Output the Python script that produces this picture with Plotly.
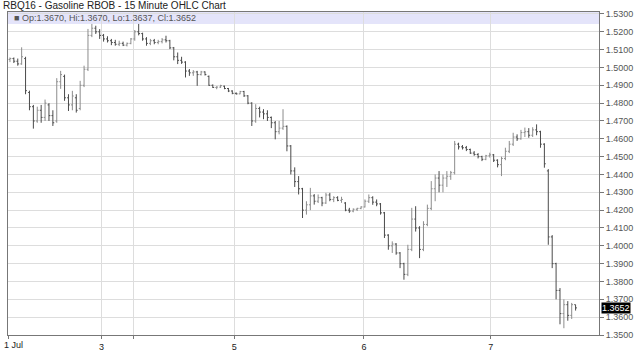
import plotly.graph_objects as go

# 15-minute bars (one bar every ~4 px of the original)
opens = [1.5045,1.5050,1.5035,1.5020,1.5050,1.4860,1.4780,1.4700,1.4760,1.4720,
         1.4790,1.4730,1.4700,1.4920,1.4950,1.4830,1.4790,1.4830,1.4770,1.4900,
         1.4990,1.5180,1.5220,1.5200,1.5180,1.5160,1.5150,1.5140,1.5130,1.5135,
         1.5125,1.5135,1.5160,1.5200,1.5190,1.5160,1.5135,1.5150,1.5140,1.5145,
         1.5155,1.5150,1.5110,1.5060,1.5040,1.5030,1.4980,1.4970,1.4975,1.4960,
         1.4975,1.4950,1.4900,1.4888,1.4890,1.4895,1.4882,1.4868,1.4855,1.4852,
         1.4865,1.4841,1.4800,1.4700,1.4770,1.4750,1.4740,1.4720,1.4690,1.4640,
         1.4660,1.4670,1.4560,1.4420,1.4360,1.4320,1.4200,1.4230,1.4280,1.4250,
         1.4270,1.4240,1.4285,1.4260,1.4270,1.4255,1.4240,1.4200,1.4195,1.4205,
         1.4210,1.4218,1.4250,1.4270,1.4245,1.4235,1.4185,1.4060,1.4000,1.4010,
         1.3960,1.3900,1.3840,1.3980,1.4150,1.4100,1.3980,1.4120,1.4210,1.4320,
         1.4380,1.4340,1.4380,1.4390,1.4410,1.4570,1.4555,1.4550,1.4540,1.4520,
         1.4512,1.4500,1.4485,1.4505,1.4510,1.4480,1.4455,1.4490,1.4530,1.4570,
         1.4610,1.4600,1.4635,1.4640,1.4620,1.4650,1.4640,1.4570,1.4420,1.4050,
         1.3900,1.3750,1.3620,1.3670,1.3610,1.3670]
highs = [1.5056,1.5056,1.5050,1.5113,1.5060,1.4870,1.4790,1.4780,1.4790,1.4820,
         1.4800,1.4760,1.4940,1.4981,1.4960,1.4850,1.4869,1.4850,1.4925,1.5010,
         1.5216,1.5244,1.5234,1.5215,1.5188,1.5175,1.5160,1.5155,1.5150,1.5145,
         1.5140,1.5165,1.5210,1.5244,1.5195,1.5170,1.5160,1.5160,1.5155,1.5165,
         1.5178,1.5155,1.5115,1.5084,1.5060,1.5035,1.4991,1.4985,1.4981,1.4981,
         1.4978,1.4955,1.4905,1.4895,1.4903,1.4898,1.4885,1.4872,1.4860,1.4869,
         1.4869,1.4845,1.4805,1.4794,1.4780,1.4766,1.4760,1.4725,1.4700,1.4700,
         1.4766,1.4675,1.4565,1.4440,1.4391,1.4325,1.4250,1.4325,1.4290,1.4288,
         1.4275,1.4297,1.4297,1.4278,1.4278,1.4275,1.4245,1.4213,1.4210,1.4213,
         1.4222,1.4260,1.4288,1.4278,1.4260,1.4240,1.4190,1.4065,1.4025,1.4015,
         1.3965,1.3905,1.4006,1.4213,1.4222,1.4110,1.4138,1.4231,1.4363,1.4400,
         1.4419,1.4400,1.4419,1.4420,1.4588,1.4578,1.4565,1.4560,1.4545,1.4531,
         1.4520,1.4505,1.4510,1.4522,1.4515,1.4485,1.4500,1.4550,1.4588,1.4634,
         1.4625,1.4650,1.4663,1.4660,1.4665,1.4681,1.4645,1.4575,1.4430,1.4060,
         1.3905,1.3763,1.3700,1.3690,1.3680,1.3670]
lows = [1.5030,1.5025,1.5010,1.5015,1.4850,1.4760,1.4657,1.4690,1.4690,1.4700,
        1.4700,1.4672,1.4690,1.4880,1.4813,1.4756,1.4760,1.4747,1.4760,1.4890,
        1.4980,1.5170,1.5188,1.5160,1.5145,1.5140,1.5125,1.5122,1.5120,1.5120,
        1.5118,1.5130,1.5150,1.5180,1.5150,1.5122,1.5125,1.5130,1.5130,1.5135,
        1.5140,1.5103,1.5040,1.5019,1.5020,1.4944,1.4953,1.4953,1.4897,1.4955,
        1.4955,1.4897,1.4885,1.4878,1.4885,1.4878,1.4862,1.4850,1.4848,1.4850,
        1.4835,1.4794,1.4672,1.4690,1.4720,1.4710,1.4700,1.4660,1.4597,1.4625,
        1.4650,1.4530,1.4400,1.4330,1.4288,1.4156,1.4175,1.4200,1.4231,1.4240,
        1.4222,1.4235,1.4250,1.4245,1.4250,1.4241,1.4194,1.4185,1.4188,1.4195,
        1.4205,1.4215,1.4240,1.4230,1.4222,1.4175,1.4044,1.3978,1.3960,1.3950,
        1.3875,1.3810,1.3830,1.3970,1.4080,1.3931,1.3970,1.4110,1.4200,1.4250,
        1.4300,1.4300,1.4330,1.4370,1.4400,1.4540,1.4540,1.4531,1.4515,1.4505,
        1.4490,1.4475,1.4480,1.4495,1.4470,1.4440,1.4391,1.4480,1.4520,1.4560,
        1.4588,1.4595,1.4610,1.4606,1.4610,1.4620,1.4550,1.4438,1.4006,1.3875,
        1.3700,1.3560,1.3538,1.3580,1.3590,1.3637]
closes = [1.5050,1.5035,1.5020,1.5060,1.4870,1.4780,1.4700,1.4760,1.4720,1.4800,
          1.4730,1.4690,1.4920,1.4960,1.4830,1.4790,1.4840,1.4760,1.4900,1.4990,
          1.5180,1.5220,1.5200,1.5180,1.5160,1.5150,1.5140,1.5130,1.5135,1.5125,
          1.5135,1.5160,1.5200,1.5190,1.5160,1.5135,1.5150,1.5140,1.5145,1.5155,
          1.5150,1.5110,1.5060,1.5040,1.5030,1.4980,1.4970,1.4975,1.4960,1.4975,
          1.4960,1.4900,1.4888,1.4890,1.4898,1.4882,1.4868,1.4855,1.4852,1.4865,
          1.4841,1.4800,1.4700,1.4770,1.4750,1.4740,1.4720,1.4690,1.4640,1.4660,
          1.4670,1.4560,1.4420,1.4360,1.4320,1.4200,1.4230,1.4280,1.4250,1.4270,
          1.4240,1.4285,1.4260,1.4270,1.4255,1.4260,1.4200,1.4195,1.4205,1.4210,
          1.4218,1.4250,1.4270,1.4245,1.4235,1.4185,1.4060,1.4000,1.4010,1.3960,
          1.3900,1.3840,1.3980,1.4150,1.4100,1.3980,1.4120,1.4210,1.4320,1.4380,
          1.4340,1.4380,1.4390,1.4410,1.4570,1.4555,1.4550,1.4540,1.4520,1.4512,
          1.4500,1.4485,1.4505,1.4510,1.4480,1.4455,1.4490,1.4530,1.4570,1.4610,
          1.4600,1.4635,1.4640,1.4620,1.4650,1.4640,1.4570,1.4460,1.4050,1.3900,
          1.3750,1.3620,1.3670,1.3610,1.3670,1.3652]

# day boundaries (bar index positions) and labels
day_pos = [-0.5, 23.5, 31.75, 57.5, 90.75, 123.25]
day_labels = ["1 Jul", "3", "", "5", "6", "7"]

title_text = "RBQ16 - Gasoline RBOB - 15 Minute OHLC Chart"
last = dict(o=opens[-1], h=highs[-1], l=lows[-1], c=closes[-1])
header_text = "■ Op:%.4f, Hi:%.4f, Lo:%.4f, Cl:%.4f" % (last["o"], last["h"], last["l"], last["c"])

xs = list(range(len(closes)))

fig = go.Figure(go.Ohlc(
    x=xs, open=opens, high=highs, low=lows, close=closes,
    increasing=dict(line=dict(color="#8c8c8c", width=1)),
    decreasing=dict(line=dict(color="#4a4a4a", width=1)),
    tickwidth=0.35, hoverinfo="skip", showlegend=False,
))

font = "Liberation Sans, Arial, sans-serif"
tick_text = [""] + day_labels[1:]
fig.update_layout(
    width=640, height=363,
    margin=dict(l=7, r=27, t=12, b=28),
    paper_bgcolor="white", plot_bgcolor="white",
    font=dict(family=font, size=9, color="#444"),
    xaxis=dict(
        range=[-0.5, 151], rangeslider=dict(visible=False),
        tickmode="array", tickvals=day_pos, ticktext=tick_text,
        showgrid=True, gridcolor="#dddddd", gridwidth=1,
        showline=True, linecolor="#777", linewidth=1, mirror=True,
        ticks="outside", ticklen=3, tickcolor="#777",
        tickfont=dict(size=9, color="#222"), zeroline=False,
    ),
    yaxis=dict(
        side="right", range=[1.35, 1.5311], dtick=0.01, tick0=1.35,
        tickformat=".4f", showgrid=True, gridcolor="#dddddd", gridwidth=1,
        showline=True, linecolor="#777", linewidth=1, mirror=True,
        ticks="outside", ticklen=4, tickcolor="#777",
        tickfont=dict(size=9, color="#555"), zeroline=False,
    ),
    shapes=[dict(type="rect", xref="paper", yref="paper", x0=0, x1=1,
                 y0=0.963, y1=1, fillcolor="#e4e4fa", line=dict(width=0),
                 layer="below")],
    annotations=[
        dict(text=title_text, xref="paper", yref="paper", x=-7/606, y=1,
             xanchor="left", yanchor="bottom", yshift=-1, showarrow=False,
             font=dict(size=10, color="#222", family=font)),
        dict(text=header_text, xref="paper", yref="paper", x=0.006, y=0.982,
             xanchor="left", yanchor="middle", showarrow=False,
             font=dict(size=9, color="#555", family=font)),
        dict(text=day_labels[0], xref="x", yref="paper", x=day_pos[0], y=0,
             xanchor="left", yanchor="top", xshift=-6, yshift=-3,
             showarrow=False, font=dict(size=9, color="#222", family=font)),
        dict(text="%.4f" % last["c"], xref="paper", yref="y", x=1, y=last["c"],
             xanchor="left", yanchor="middle", showarrow=False, xshift=2,
             bgcolor="black", borderpad=0,
             font=dict(size=9, color="white", family=font)),
    ],
)

fig.write_html("out.html")
